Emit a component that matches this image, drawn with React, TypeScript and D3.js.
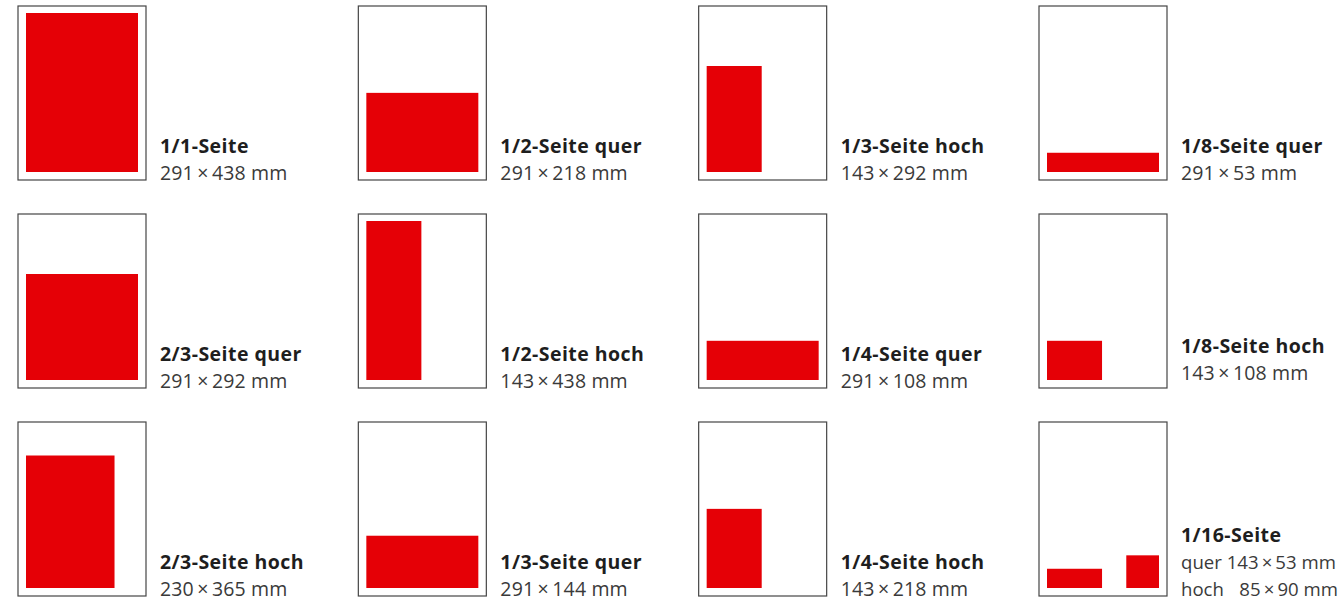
import React from "react";
import * as d3 from "d3";

// Ad formats (title, width mm, height mm)
const titles = [
  "1/1-Seite", "1/2-Seite quer", "1/3-Seite hoch", "1/8-Seite quer",
  "2/3-Seite quer", "1/2-Seite hoch", "1/4-Seite quer", "1/8-Seite hoch",
  "2/3-Seite hoch", "1/3-Seite quer", "1/4-Seite hoch", "1/16-Seite",
];
const widthsMm = [291, 291, 143, 291, 291, 143, 291, 143, 230, 291, 143, 143];
const heightsMm = [438, 218, 292, 53, 292, 438, 108, 108, 365, 144, 218, 53];
// second format of the 1/16 page (hoch)
const extraWidthMm = 85;
const extraHeightMm = 90;
const pageWidthMm = 291;
const pageHeightMm = 438;

const W = 1344;
const H = 603;
const COLS = 4;
const BOX_W = 128;
const BOX_H = 174;
const INSET_X = 8;
const INSET_TOP = 7;
const INSET_BOTTOM = 8;
const RED = "#e50006";
const FONT = "'Open Sans', 'Noto Sans', sans-serif";
const T = "\u2009×\u2009";

export default function App() {
  const colX = d3.scaleLinear().domain([0, 3]).range([18, 1039]);
  const rowY = d3.scaleLinear().domain([0, 2]).range([6, 422]);
  const innerW = BOX_W - 2 * INSET_X;
  const innerH = BOX_H - INSET_TOP - INSET_BOTTOM;
  const xs = d3.scaleLinear().domain([0, pageWidthMm]).range([0, innerW]);
  const ys = d3.scaleLinear().domain([0, pageHeightMm]).range([0, innerH]);

  return (
    <svg
      width={W}
      height={H}
      style={{ position: "absolute", left: 0, top: 0, background: "#fff" }}
    >
      {titles.map((title, i) => {
        const col = i % COLS;
        const row = Math.floor(i / COLS);
        const bx = colX(col);
        const by = rowY(row);
        const bottom = by + BOX_H - INSET_BOTTOM;
        const isSixteenth = i === titles.length - 1;
        const rw = xs(widthsMm[i]);
        const rh = ys(heightsMm[i]);
        const lines = isSixteenth
          ? [
              `quer ${widthsMm[i]}${T}${heightsMm[i]} mm`,
              `hoch \u2007${extraWidthMm}${T}${extraHeightMm} mm`,
            ]
          : [`${widthsMm[i]}${T}${heightsMm[i]} mm`];
        const lift = i === 7 ? 8 : 0;
        const lastBase = by + BOX_H - lift;
        const lh = 27;
        const tx = bx + 142;
        return (
          <g key={title}>
            <rect
              x={bx}
              y={by}
              width={BOX_W}
              height={BOX_H}
              fill="#fff"
              stroke="#454545"
              strokeWidth={1.2}
            />
            <rect
              x={bx + INSET_X}
              y={bottom - rh}
              width={rw}
              height={rh}
              fill={RED}
            />
            {isSixteenth && (
              <rect
                x={bx + BOX_W - INSET_X - xs(extraWidthMm)}
                y={bottom - ys(extraHeightMm)}
                width={xs(extraWidthMm)}
                height={ys(extraHeightMm)}
                fill={RED}
              />
            )}
            <text
              x={tx}
              y={lastBase - lh * lines.length}
              fontFamily={FONT}
              fontWeight={700}
              fontSize={19.5}
              letterSpacing={0.45}
              fill="#1e1e1e"
            >
              {title}
            </text>
            {lines.map((ln, j) => (
              <text
                key={j}
                x={tx}
                y={lastBase - lh * (lines.length - 1 - j)}
                fontFamily={FONT}
                fontWeight={400}
                fontSize={isSixteenth ? 18.6 : 19.5}
                letterSpacing={isSixteenth ? 0 : 0.15}
                fill="#3a3a3a"
                style={{ whiteSpace: "pre" }}
              >
                {ln}
              </text>
            ))}
          </g>
        );
      })}
    </svg>
  );
}
